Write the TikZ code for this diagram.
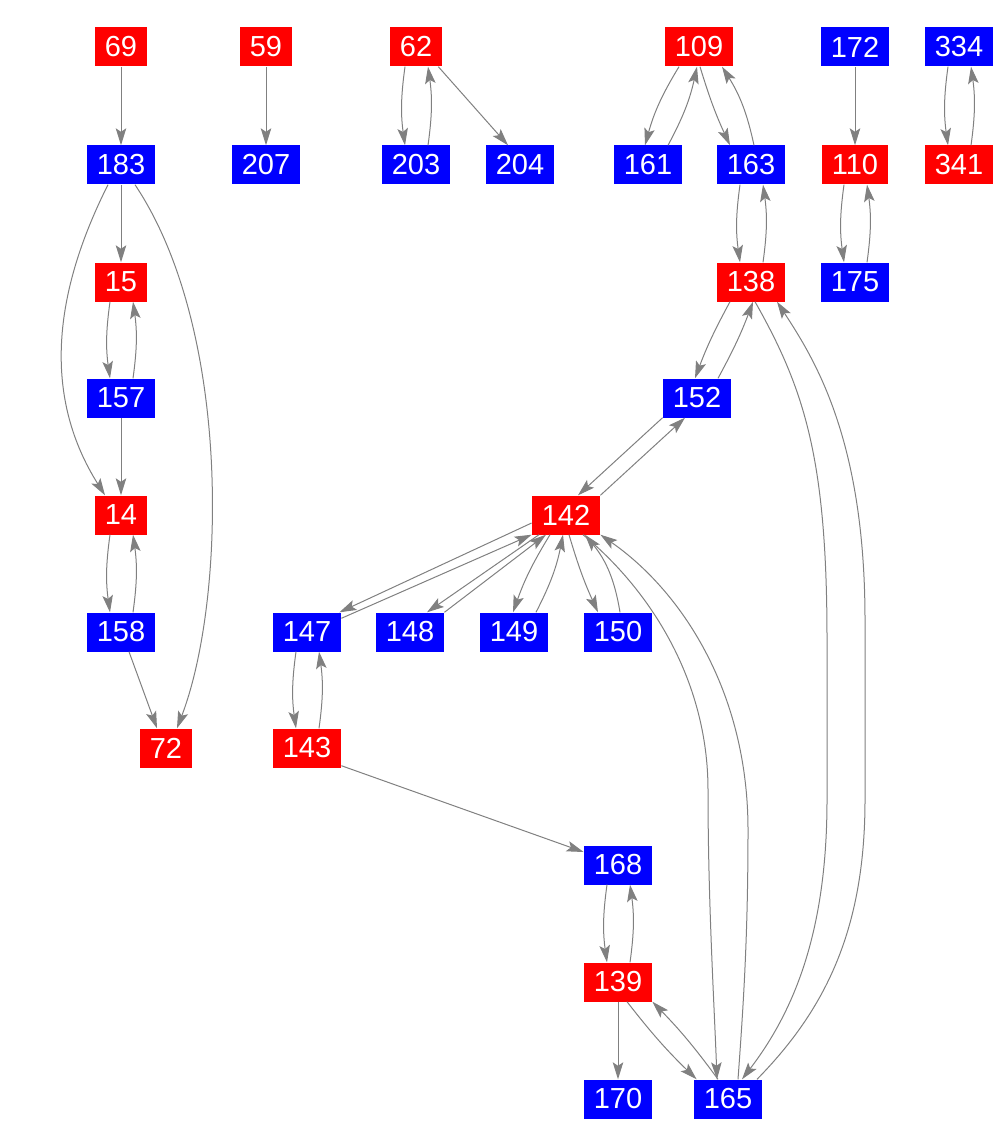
\documentclass[tikz,border=0pt]{standalone}
\usepackage{fontspec}
\setmainfont{Liberation Sans}
\usetikzlibrary{arrows.meta}

\begin{document}
\begin{tikzpicture}[x=1pt,y=-1pt,
    vertex/.style={inner sep=0pt, inner xsep=10pt, minimum height=39pt,
        text=white, font=\fontsize{29}{34}\selectfont},
    rednode/.style={vertex, fill=red},
    bluenode/.style={vertex, fill=blue},
    edge/.style={draw=gray, line width=1pt,
        -{Stealth[length=17pt,width=10.5pt,inset=3.5pt]}}]

\useasboundingbox (0,0) rectangle (1002,1142);

% red nodes
\foreach \n/\x/\y in {69/121/47, 59/266/47, 62/416/47, 109/699/47,
    110/855/165, 341/959/165, 15/121/282, 138/751/282, 14/121/515,
    142/566/515, 72/166/748, 143/307/748, 139/618/982}
    \node[rednode] (\n) at (\x,\y) {\n};

% blue nodes
\foreach \n/\x/\y in {172/855/47, 334/959/47, 183/121/165, 207/266/165,
    203/416/165, 204/520/165, 161/648/165, 163/751/165, 175/855/282,
    157/121/398, 152/697/398, 158/121/632, 147/307/632, 148/410/632,
    149/514/632, 150/618/632, 168/618/865, 170/618/1099, 165/728/1099}
    \node[bluenode] (\n) at (\x,\y) {\n};

% straight edges
\foreach \a/\b in {69/183, 59/207, 172/110, 183/15, 157/14, 139/170}
    \draw[edge] (\a) -- (\b);

% two-way pairs
\foreach \a/\b in {62/203, 334/341, 110/175, 163/138, 15/157, 14/158, 147/143, 168/139} {
    \draw[edge] ([xshift=-11pt]\a.south) to[bend right=8] ([xshift=-11pt]\b.north);
    \draw[edge] ([xshift=12pt]\b.north) to[bend right=8] ([xshift=12pt]\a.south);
}

\draw[edge] ([xshift=-4pt]62.south east) -- ([xshift=-12pt]204.north);

\draw[edge] ([xshift=-20pt]109.south) to[bend right=8] ([xshift=-3pt]161.north);
\draw[edge] ([xshift=20pt]161.north) to[bend right=8] ([xshift=-2pt]109.south);
\draw[edge] ([xshift=1pt]109.south) to[bend right=4] ([xshift=-21pt]163.north);
\draw[edge] ([xshift=3pt]163.north) to[bend right=10] ([xshift=23pt]109.south);

\draw[edge] ([xshift=-21pt]138.south) to[bend right=4] ([xshift=-2pt]152.north);
\draw[edge] ([xshift=21pt]152.north) to[bend right=4] ([xshift=2pt]138.south);

\draw[edge] (152.south west) -- ([xshift=12pt]142.north);
\draw[edge] (142.north east) -- ([xshift=-12pt]152.south);

% fan below 142
\draw[edge] ([yshift=-8pt]142.west) -- ([xshift=-2pt]147.north east);
\draw[edge] ([yshift=-6pt]147.north east) -- (142.south west);
\draw[edge] ([xshift=-27pt]142.south) -- ([xshift=17pt]148.north);
\draw[edge] (148.north east) -- ([xshift=-20pt]142.south);
\draw[edge] ([xshift=-16pt]142.south) to[bend right=6] ([xshift=-1pt]149.north);
\draw[edge] ([xshift=22pt]149.north) to[bend right=8] ([xshift=-3pt]142.south);
\draw[edge] ([xshift=3pt]142.south) to[bend right=4] ([xshift=-20pt]150.north);
\draw[edge] ([xshift=2pt]150.north) to[bend right=15] ([xshift=19pt]142.south);

% long curves
\draw[edge] ([xshift=-13pt]183.south) .. controls (50,300) and (45,400) .. ([xshift=-16pt]14.north);
\draw[edge] ([xshift=14pt]183.south) .. controls (232,330) and (226,600) .. ([xshift=11pt]72.north);
\draw[edge] ([xshift=8pt]158.south) -- ([xshift=-9pt]72.north);

\draw[edge] ([xshift=17pt]142.south) .. controls (650,590) and (708,680) .. (708,790)
    .. controls (708,900) and (714,1000) .. ([xshift=-11pt]165.north);
\draw[edge] ([xshift=10pt]165.north) .. controls (743,1010) and (748,940) .. (748,830)
    .. controls (748,690) and (680,590) .. (142.south east);
\draw[edge] ([xshift=4pt]138.south) .. controls (805,390) and (827,460) .. (827,640)
    -- (827,800) .. controls (827,930) and (795,1010) .. ([xshift=14pt]165.north);
\draw[edge] ([xshift=29pt]165.north) .. controls (825,1010) and (865,930) .. (865,800)
    -- (865,620) .. controls (865,440) and (815,360) .. ([xshift=26pt]138.south);

\draw[edge] ([yshift=2pt]143.south east) -- ([yshift=13pt]168.west);
\draw[edge] ([xshift=9pt]139.south) to[bend right=4] ([xshift=3pt]165.north west);
\draw[edge] ([xshift=-10pt]165.north) to[bend right=4] (139.south east);

\end{tikzpicture}
\end{document}
